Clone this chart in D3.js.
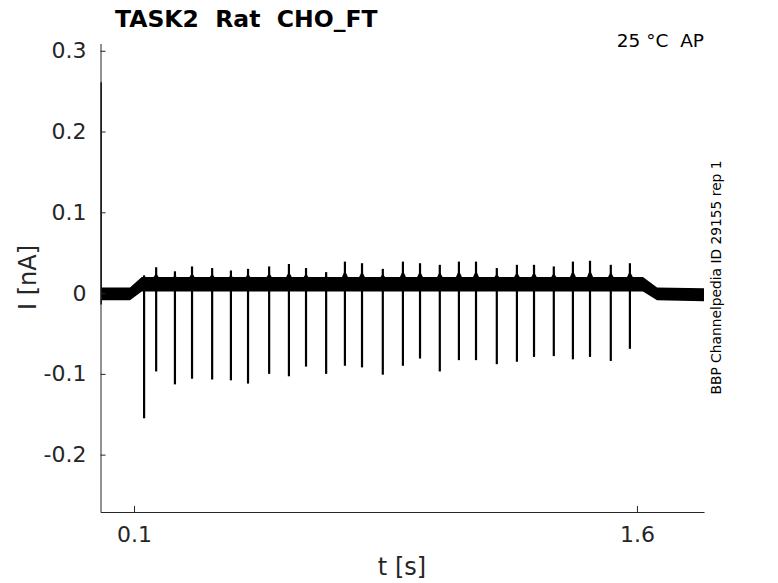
<!DOCTYPE html>
<html>
<head>
<meta charset="utf-8">
<script src="https://cdn.jsdelivr.net/npm/d3@7"></script>
<style>
  body { margin: 0; background: #fff; }
  text { font-family: "DejaVu Sans", sans-serif; }
</style>
</head>
<body>
<svg id="chart" width="778" height="583"></svg>
<script>
// spike times [s], negative peaks and positive peaks [nA]
let spikeTimes = [0.130, 0.166, 0.222, 0.273, 0.333, 0.389, 0.440, 0.503, 0.562, 0.613,
                  0.673, 0.729, 0.780, 0.842, 0.902, 0.953, 1.012, 1.069, 1.120, 1.182,
                  1.242, 1.293, 1.352, 1.409, 1.460, 1.522, 1.579];
let spikeMins = [-0.155, -0.097, -0.113, -0.106, -0.107, -0.108, -0.112, -0.100, -0.103, -0.091,
                 -0.100, -0.090, -0.092, -0.101, -0.090, -0.081, -0.097, -0.083, -0.083, -0.088,
                 -0.085, -0.079, -0.078, -0.082, -0.079, -0.084, -0.069];
let spikeMaxs = [0.022, 0.032, 0.027, 0.033, 0.031, 0.028, 0.030, 0.033, 0.036, 0.031,
                 0.026, 0.039, 0.037, 0.030, 0.039, 0.037, 0.035, 0.039, 0.039, 0.031,
                 0.035, 0.035, 0.033, 0.039, 0.040, 0.035, 0.037];

// noise band of the holding current (lower / upper envelope)
let bandTimes = [0.002, 0.088, 0.123, 1.618, 1.660, 1.800];
let bandLow   = [-0.009, -0.009, 0.002, 0.002, -0.009, -0.010];
let bandHigh  = [0.007, 0.007, 0.020, 0.020, 0.007, 0.006];

// capacitive transient at the start of the sweep
let transientTime = 0.002;
let transientRange = [-0.014, 0.261];

let xTicks = [0.1, 1.6];
let yTicks = [-0.2, -0.1, 0, 0.1, 0.2, 0.3];

let svg = d3.select("#chart");
let axisColor = "#262626";

let x = d3.scaleLinear().domain([0, 1.8]).range([100.5, 704]);
let y = d3.scaleLinear().domain([-0.271, 0.309]).range([512, 43.5]);

// noise band
let band = bandTimes.map(function(t, i) { return { t: t, lo: bandLow[i], hi: bandHigh[i] }; });
let area = d3.area()
  .x(function(d) { return x(d.t); })
  .y0(function(d) { return y(d.lo); })
  .y1(function(d) { return y(d.hi); });

svg.append("path")
  .datum(band)
  .attr("d", area)
  .style("fill", "#000");

// spikes
let spikes = spikeTimes.map(function(t, i) { return { t: t, lo: spikeMins[i], hi: spikeMaxs[i] }; });
svg.selectAll(".spike")
  .data(spikes)
  .enter().append("line")
  .attr("class", "spike")
  .attr("x1", function(d) { return x(d.t); })
  .attr("x2", function(d) { return x(d.t); })
  .attr("y1", function(d) { return y(d.lo); })
  .attr("y2", function(d) { return y(d.hi); })
  .style("stroke", "#000")
  .style("stroke-width", 2.2);

// small bump around each spike peak
svg.selectAll(".bump")
  .data(spikes)
  .enter().append("path")
  .attr("class", "bump")
  .attr("d", function(d) {
    let cx = x(d.t);
    return "M" + (cx - 4) + "," + y(0.017) + "L" + cx + "," + y((d.hi + 0.017) / 2) + "L" + (cx + 4) + "," + y(0.017) + "Z";
  })
  .style("fill", "#000");

svg.append("line")
  .attr("x1", x(transientTime))
  .attr("x2", x(transientTime))
  .attr("y1", y(transientRange[0]))
  .attr("y2", y(transientRange[1]))
  .style("stroke", "#000")
  .style("stroke-width", 1.5);

// axes
let xAxis = d3.axisBottom(x)
  .tickValues(xTicks)
  .tickFormat(function(d) { return String(d); })
  .tickSizeInner(-6)
  .tickSizeOuter(0)
  .tickPadding(14);

let yAxis = d3.axisLeft(y)
  .tickValues(yTicks)
  .tickFormat(function(d) { return String(d); })
  .tickSizeInner(-5)
  .tickSizeOuter(0)
  .tickPadding(14);

let gx = svg.append("g")
  .attr("transform", "translate(0,512)")
  .call(xAxis);
let gy = svg.append("g")
  .attr("transform", "translate(100.5,0)")
  .call(yAxis);

[gx, gy].forEach(function(g) {
  g.select(".domain").style("stroke", axisColor);
  g.selectAll(".tick line").style("stroke", axisColor);
  g.selectAll(".tick text")
    .style("fill", axisColor)
    .style("font-family", "DejaVu Sans")
    .style("font-size", "22px");
});

// labels
svg.append("text")
  .attr("x", 402)
  .attr("y", 575)
  .text("t [s]")
  .style("fill", axisColor)
  .style("text-anchor", "middle")
  .style("font-size", "24px");

svg.append("text")
  .attr("transform", "translate(36,277.5) rotate(-90)")
  .text("I [nA]")
  .style("fill", axisColor)
  .style("text-anchor", "middle")
  .style("font-size", "24px");

svg.append("text")
  .attr("x", 115)
  .attr("y", 26.5)
  .text("TASK2  Rat  CHO_FT")
  .style("white-space", "pre")
  .style("fill", "#000")
  .style("font-weight", "bold")
  .style("font-size", "23.5px");

svg.append("text")
  .attr("x", 704)
  .attr("y", 47)
  .text("25 °C  AP")
  .style("white-space", "pre")
  .style("fill", "#000")
  .style("text-anchor", "end")
  .style("font-size", "18.5px");

svg.append("text")
  .attr("transform", "translate(721,277.5) rotate(-90)")
  .text("BBP Channelpedia ID 29155 rep 1")
  .style("fill", "#000")
  .style("text-anchor", "middle")
  .style("font-size", "13.8px");
</script>
</body>
</html>
